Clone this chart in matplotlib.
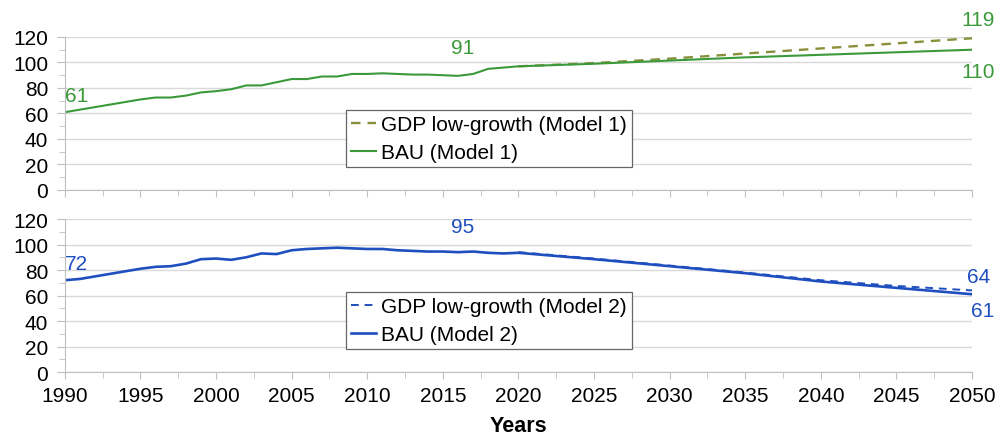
import matplotlib
matplotlib.use("Agg")
import matplotlib.pyplot as plt
from matplotlib.ticker import MultipleLocator

plt.rcParams['font.family'] = ['Liberation Sans', 'DejaVu Sans']

hist_years = list(range(1990, 2021))
m1_hist = [61, 63, 65, 67, 69, 71, 72.5, 72.5, 74, 76.5, 77.5, 79, 82, 82, 84.5, 87, 87,
           89, 89, 91, 91, 91.5, 91, 90.5, 90.5, 90, 89.5, 91, 95, 96, 97]
m2_hist = [72, 73, 75, 77, 79, 81, 82.5, 83, 85, 88.5, 89, 88, 90, 93, 92.5, 95.5, 96.5,
           97, 97.5, 97, 96.5, 96.5, 95.5, 95, 94.5, 94.5, 94, 94.5, 93.5, 93, 93.5]

proj_years = [2020, 2025, 2030, 2035, 2040, 2045, 2050]
m1_bau_proj = [97, 99, 101.5, 104, 106, 108, 110]
m1_low_proj = [97, 99.5, 103, 107, 111, 115, 119]
m2_bau_proj = [93.5, 88.5, 83, 77.5, 71, 66, 61]
m2_low_proj = [94, 89, 83.5, 78, 72, 67.5, 64]

green = '#3a9a3a'
olive = '#8a8f3c'
blue = '#1f4fbf'
grid_c = '#d9d9d9'
FS = 15

fig = plt.figure(figsize=(9.98, 4.35), dpi=100)
ax1 = fig.add_axes([0.065, 0.561, 0.909, 0.3517])
ax2 = fig.add_axes([0.065, 0.1425, 0.909, 0.3517])

def style(ax, show_x):
    ax.set_xlim(1990, 2050)
    ax.set_ylim(0, 120)
    ax.yaxis.set_major_locator(MultipleLocator(20))
    ax.yaxis.set_minor_locator(MultipleLocator(10))
    ax.xaxis.set_major_locator(MultipleLocator(5))
    ax.xaxis.set_minor_locator(MultipleLocator(2.5))
    ax.grid(axis='y', which='major', color=grid_c, linewidth=1)
    ax.set_axisbelow(True)
    for s in ['top', 'right']:
        ax.spines[s].set_visible(False)
    for s in ['left', 'bottom']:
        ax.spines[s].set_color('#bfbfbf')
    ax.tick_params(axis='both', which='both', color='#bfbfbf', labelsize=FS, direction='out')
    ax.tick_params(axis='y', which='major', length=6, pad=6)
    ax.tick_params(axis='y', which='minor', length=4)
    ax.tick_params(axis='x', which='major', length=5, pad=5)
    ax.tick_params(axis='x', which='minor', length=4)
    if not show_x:
        ax.tick_params(axis='x', labelbottom=False)

style(ax1, False)
style(ax2, True)

leg_kw = dict(loc='upper left', bbox_to_anchor=(0.3095, 0.525), fontsize=FS, frameon=True,
              fancybox=False, edgecolor='#666666', handlelength=1.2, handletextpad=0.25,
              borderpad=0.25, labelspacing=0.45, borderaxespad=0, framealpha=1)

ax1.plot(proj_years, m1_low_proj, color=olive, linestyle=(0, (4, 3)), linewidth=1.7,
         label='GDP low-growth (Model 1)')
ax1.plot(hist_years + proj_years[1:], m1_hist + m1_bau_proj[1:], color=green, linewidth=1.5,
         label='BAU (Model 1)')
leg1 = ax1.legend(**leg_kw)
leg1.get_frame().set_linewidth(0.9)

ax2.plot(proj_years, m2_low_proj, color=blue, linestyle=(0, (4, 3)), linewidth=1.4,
         label='GDP low-growth (Model 2)')
ax2.plot(hist_years + proj_years[1:], m2_hist + m2_bau_proj[1:], color=blue, linewidth=1.9,
         label='BAU (Model 2)')
leg2 = ax2.legend(**leg_kw)
leg2.get_frame().set_linewidth(0.9)

ax2.set_xlabel('Years', fontsize=15.5, fontweight='bold', labelpad=7)

ax1.text(1990, 74, '61', color=green, fontsize=FS, ha='left', va='center')
ax1.text(2016.3, 112, '91', color=green, fontsize=FS, ha='center', va='center')
ax1.text(2051.5, 134, '119', color=green, fontsize=FS, ha='right', va='center', clip_on=False)
ax1.text(2051.5, 93, '110', color=green, fontsize=FS, ha='right', va='center', clip_on=False)

ax2.text(1990, 85, '72', color=blue, fontsize=FS, ha='left', va='center')
ax2.text(2016.3, 114, '95', color=blue, fontsize=FS, ha='center', va='center')
ax2.text(2051.2, 75, '64', color=blue, fontsize=FS, ha='right', va='center', clip_on=False)
ax2.text(2051.5, 48, '61', color=blue, fontsize=FS, ha='right', va='center', clip_on=False)

fig.savefig('out.png', dpi=100)
